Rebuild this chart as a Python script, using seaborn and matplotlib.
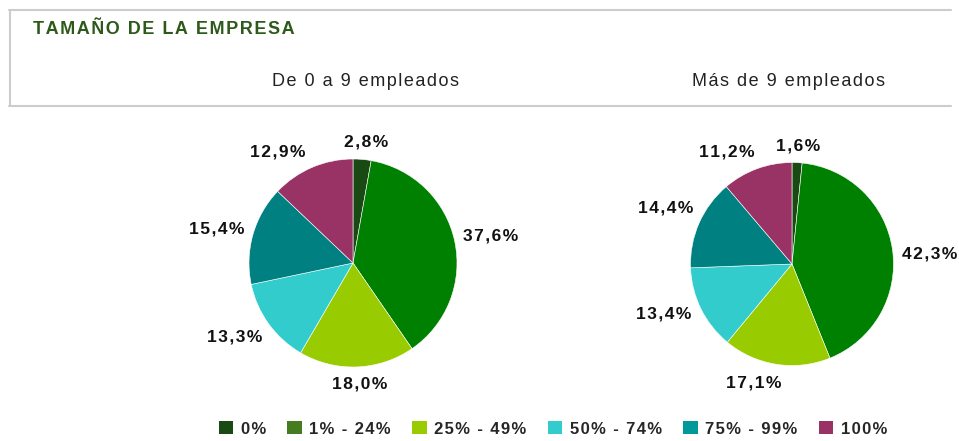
"""Pie charts: share of categories by company size (De 0 a 9 / Más de 9 empleados)."""

import matplotlib

matplotlib.use("Agg")

import numpy as np
import seaborn as sns
from matplotlib import pyplot as plt
from matplotlib.lines import Line2D
from matplotlib.patches import Patch

categories = ["0%", "1% - 24%", "25% - 49%", "50% - 74%", "75% - 99%", "100%"]
small_firms = [2.8, 37.6, 18.0, 13.3, 15.4, 12.9]
large_firms = [1.6, 42.3, 17.1, 13.4, 14.4, 11.2]
panel_titles = ["De 0 a 9 empleados", "Más de 9 empleados"]
main_title = "TAMAÑO DE LA EMPRESA"

pie_colors = ["#1a4a14", "#008000", "#99cc00", "#33cccc", "#008080", "#993366"]
legend_colors = ["#1a4a14", "#457c1f", "#99cc00", "#33cccc", "#009999", "#993366"]

# small angular nudges (degrees) so labels sit where the original placed them
label_nudges = [
    [-1, -1, 1, -4, 2, 11],
    [0, -4, -9, -5, 0, 10],
]

sns.set_theme(style="white")
plt.rcParams["font.family"] = ["Liberation Sans", "DejaVu Sans"]

HAIR = "\u200a"


def spaced(text: str, gap: str = HAIR) -> str:
    """Mimic the character spacing of the original chart."""
    return gap.join(text)


def fmt_pct(value: float) -> str:
    return f"{value:.1f}".replace(".", ",") + "%"


W, H = 959, 441
fig = plt.figure(figsize=(W / 100, H / 100), dpi=100)

# header frame (top, left and bottom lines only)
frame_color = "#cccccc"
fig.add_artist(Line2D([9 / W, 951 / W], [1 - 10 / H, 1 - 10 / H], color=frame_color, lw=1.5))
fig.add_artist(Line2D([9 / W, 951 / W], [1 - 106 / H, 1 - 106 / H], color=frame_color, lw=1.5))
fig.add_artist(Line2D([10 / W, 10 / W], [1 - 10 / H, 1 - 106 / H], color=frame_color, lw=1.5))

fig.text(33 / W, 1 - 29 / H, spaced(main_title), color="#2d5a1b", fontsize=13,
         fontweight="bold", va="center", ha="left")

panels = [
    (small_firms, panel_titles[0], (353, 263), 104, 365),
    (large_firms, panel_titles[1], (792, 264), 101.5, 789),
]

half = 160
pie_axes = []
for values, title, (cx, cy), radius, title_x in panels:
    ax = fig.add_axes([(cx - half) / W, (H - cy - half) / H, 2 * half / W, 2 * half / H])
    wedges, texts = ax.pie(
        values,
        colors=pie_colors,
        startangle=90,
        counterclock=False,
        labels=[spaced(fmt_pct(v)) for v in values],
        labeldistance=1.1,
        wedgeprops={"linewidth": 0.4, "edgecolor": "white"},
        textprops={"fontsize": 12.5, "fontweight": "bold", "color": "#111111"},
    )
    lim = half / radius
    ax.set_xlim(-lim, lim)
    ax.set_ylim(-lim, lim)
    ax.set_aspect("equal")
    ax.axis("off")
    pie_axes.append((ax, wedges, texts, radius))
    fig.text(title_x / W, 1 - 82 / H, spaced(title), fontsize=13, color="#222222",
             ha="center", va="center")

# place the percentage labels just outside the rim, centred on each slice
fig.canvas.draw()
renderer = fig.canvas.get_renderer()
for (ax, wedges, texts, radius), nudges in zip(pie_axes, label_nudges):
    for wedge, text, nudge in zip(wedges, texts, nudges):
        theta = np.deg2rad((wedge.theta1 + wedge.theta2) / 2 + nudge)
        ux, uy = np.cos(theta), np.sin(theta)
        bb = text.get_window_extent(renderer)
        half_w = bb.width / 2 / radius
        half_h = bb.height / 2 / radius
        dist = 1 + 8 / radius + abs(ux) * half_w + abs(uy) * half_h
        text.set_position((ux * dist, uy * dist))
        text.set_ha("center")
        text.set_va("center")

handles = [Patch(facecolor=c, edgecolor="none") for c in legend_colors]
fig.legend(
    handles,
    [spaced(c) for c in categories],
    loc="center",
    bbox_to_anchor=(553 / W, 1 - 429 / H),
    ncol=6,
    frameon=False,
    handlelength=0.85,
    handleheight=0.8,
    handletextpad=0.45,
    columnspacing=1.3,
    prop={"size": 12, "weight": "bold"},
)

fig.savefig("out.png", dpi=100)
